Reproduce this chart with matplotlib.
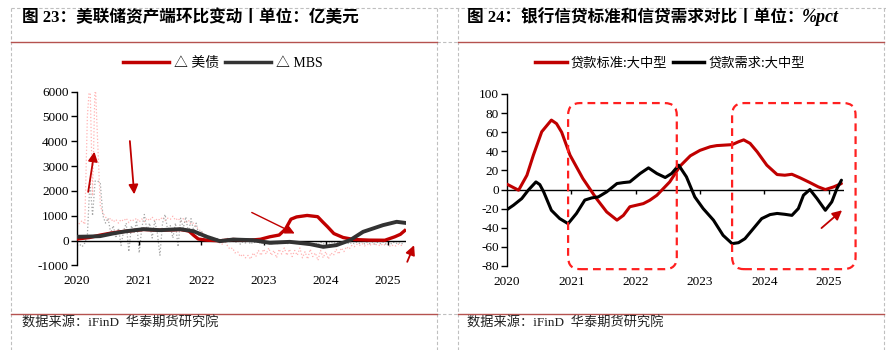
import numpy as np
import matplotlib
matplotlib.use('Agg')
import matplotlib.pyplot as plt
from matplotlib.patches import FancyBboxPatch
from matplotlib.lines import Line2D

CJK = ['Noto Sans CJK SC', 'DejaVu Sans']
SERIF_CJK = ['Liberation Serif', 'Noto Sans CJK SC', 'DejaVu Sans']
plt.rcParams['font.family'] = SERIF_CJK
plt.rcParams['axes.unicode_minus'] = False

RED = '#C00000'
DARK = '#333333'

# ---- left chart: Fed asset changes (100m USD) ----
ust_ma_year = [2020.0, 2020.2, 2020.37, 2020.55, 2020.69, 2020.9, 2021.07, 2021.33, 2021.55, 2021.66,
               2021.8, 2021.88, 2021.95, 2022.09, 2022.3, 2022.51, 2022.78, 2022.95, 2023.1, 2023.25,
               2023.35, 2023.44, 2023.53, 2023.7, 2023.87, 2023.95, 2024.03, 2024.13, 2024.28, 2024.45,
               2024.7, 2024.95, 2025.11, 2025.2, 2025.27]
ust_ma = [60, 120, 216, 300, 350, 400, 444, 417, 430, 444,
          380, 200, 60, 13, -13, 40, 13, 50, 150, 220,
          450, 860, 950, 1010, 960, 750, 550, 280, 120, 40,
          15, 10, 150, 250, 400]

mbs_ma_year = [2020.0, 2020.2, 2020.37, 2020.58, 2020.8, 2021.07, 2021.33, 2021.66, 2021.87, 2022.09,
               2022.3, 2022.51, 2022.83, 2023.1, 2023.42, 2023.75, 2023.96, 2024.17, 2024.39, 2024.6,
               2024.92, 2025.14, 2025.27]
mbs_ma = [150, 160, 175, 283, 377, 458, 417, 458, 377, 148,
          -27, 40, 13, -94, -54, -148, -256, -188, 13, 350,
          619, 754, 713]

# raw half-monthly changes, 2020.0 .. 2025.25
ust_raw = [550, 700, 800, 650, 5000, 6500, 1800, 6500, 3900, 1400, 1100, 950,
           800, 900, 750, 850, 700, 850, 780, 900, 720, 850, 800, 900,
           750, 870, 760, 900, 800, 950, 780, 880, 820, 950, 800, 900,
           850, 980, 820, 900, 760, 880, 700, 820, 650, 700, 550, 450,
           350, 250, 150, 100, 0, -50, 50, -100, -150, 0, -200, -350,
           -300, -500, -450, -650, -550, -700, -600, -750, -500, -650, -400, -600,
           -350, -550, -300, -600, -400, -700, -350, -550, -300, -600, -350, -650,
           -400, -600, -300, -700, -450, -750, -350, -650, -500, -800, -400, -700,
           -450, -750, -500, -600, -350, -550, -300, -450, -250, -350, -200, -250,
           -150, -200, -120, -220, -150, -200, -120, -180, -150, -220, -130, -200,
           -150, -250, -180, -220, -150, -200, -180]
mbs_raw = [-200, -150, -250, -100, 200, 2400, 1000, 2400, 2400, 2300, 1000, 700,
           900, 300, 600, 100, 500, -200, 400, 700, -450, 600, 300, 800,
           -500, 500, 1050, 400, 700, 100, 800, 300, -600, 700, 1050, 400,
           600, 100, 700, -250, 900, 500, 950, 300, 880, 400, 700, 200,
           400, 100, 250, 0, 150, -50, 100, -100, 50, 0, 100, -50,
           50, -100, 0, -150, -50, -100, 0, -150, -50, -100, -30, -150,
           -50, -120, -30, -150, -80, -150, -50, -120, -60, -150, -80, -130,
           -60, -150, -80, -140, -50, -150, -80, -200, -100, -180, -60, -150,
           -80, -130, -40, -120, -60, -100, -30, -120, -50, -150, -80, -130,
           -60, -120, -40, -140, -60, -130, -50, -150, -70, -130, -60, -140,
           -80, -150, -60, -130, -70, -150, -100]
raw_year = 2020 + np.arange(len(ust_raw)) / 24

# ---- right chart: loan standards vs demand (%) ----
std_year = [2020.0, 2020.18, 2020.31, 2020.41, 2020.54, 2020.69, 2020.77, 2020.85, 2020.98, 2021.18,
            2021.39, 2021.55, 2021.71, 2021.81, 2021.91, 2022.12, 2022.22, 2022.33, 2022.43, 2022.53,
            2022.69, 2022.85, 2023.0, 2023.16, 2023.26, 2023.5, 2023.6, 2023.68, 2023.78, 2023.89,
            2024.04, 2024.2, 2024.32, 2024.43, 2024.56, 2024.71, 2024.84, 2024.95, 2025.08, 2025.2]
std = [5.6, -0.7, 15, 36, 60.5, 72.7, 69, 60, 36, 11.5,
       -9.4, -23.4, -32, -27, -18, -14.7, -11.2, -6, 1, 8,
       24.5, 35.3, 41, 44.8, 46, 47, 50, 52, 48.3, 39.5,
       25.5, 15.7, 15, 16, 12.2, 7.3, 2.8, 0, 2.8, 6.3]
dem_year = [2020.0, 2020.1, 2020.23, 2020.33, 2020.45, 2020.51, 2020.57, 2020.69, 2020.82, 2020.95,
            2021.08, 2021.21, 2021.32, 2021.42, 2021.55, 2021.71, 2021.81, 2021.91, 2022.07, 2022.2,
            2022.33, 2022.46, 2022.56, 2022.67, 2022.79, 2022.92, 2023.05, 2023.21, 2023.36, 2023.5,
            2023.6, 2023.7, 2023.83, 2023.96, 2024.09, 2024.2, 2024.32, 2024.43, 2024.53, 2024.61,
            2024.71, 2024.82, 2024.95, 2025.05, 2025.13, 2025.2]
dem = [-21, -16.4, -9.4, -0.7, 8, 5.2, -2.4, -21.7, -30.4, -35.7,
       -25, -11, -8.7, -7.7, -2.4, 6.3, 7.3, 8, 16.8, 22.7,
       16.8, 12.6, 16.8, 25.5, 13.3, -7.7, -19.9, -32, -47.9, -56.6,
       -55.6, -51.4, -40.9, -30.4, -26.2, -25, -25.9, -27, -19.9, -5.9,
       0, -9.4, -21.7, -12.9, 1, 9.8]

years = [2020, 2021, 2022, 2023, 2024, 2025]

W, H = 887, 350
fig = plt.figure(figsize=(W / 100, H / 100), dpi=100)


def fx(x):
    return x / W


def fy(y):
    return 1 - y / H


def fline(x0, y0, x1, y1, **kw):
    fig.add_artist(Line2D([fx(x0), fx(x1)], [fy(y0), fy(y1)], transform=fig.transFigure, **kw))


# table borders
grey = dict(color='#BFBFBF', lw=0.8, ls=(0, (3, 2)))
fline(11.5, 8, 887, 8, **grey)
for xv in [11.5, 437.5, 458, 884]:
    fline(xv, 8, xv, 350, **grey)
fline(437.5, 41.5, 458, 41.5, **grey)
fline(437.5, 313.5, 458, 313.5, **grey)
for x0, x1 in [(11.5, 437.5), (458, 884)]:
    fline(x0, 41.5, x1, 41.5, color='#B5524F', lw=1)
    fline(x0, 313.5, x1, 313.5, color='#B5524F', lw=1)

# titles
fig.text(fx(22), fy(18), '图 23：美联储资产端环比变动丨单位：亿美元', ha='left', va='center',
         fontsize=12, weight='bold', family=SERIF_CJK)
t2 = fig.text(fx(467), fy(18), '图 24：银行信贷标准和信贷需求对比丨单位：', ha='left', va='center',
              fontsize=12, weight='bold', family=SERIF_CJK)
r = fig.canvas.get_renderer()
bb = t2.get_window_extent(r)
fig.text(bb.x1 / W - 0.002, fy(18), '%pct', ha='left', va='center', fontsize=13,
         weight='bold', style='italic', family='Liberation Serif')

# sources
for xs in [22, 467]:
    fig.text(fx(xs), fy(323), '数据来源：iFinD  华泰期货研究院', ha='left', va='center',
             fontsize=9.5, color='#222222', family=SERIF_CJK)


def style_axis(ax, tick_len):
    for s in ['top', 'right', 'bottom']:
        ax.spines[s].set_visible(False)
    ax.spines['left'].set_linewidth(1)
    ax.tick_params(axis='y', direction='out', length=4, width=1, labelsize=9.5, pad=2)
    ax.tick_params(axis='x', length=0, labelsize=9.5, pad=7)
    ax.set_xticks(years)
    ax.set_xticklabels([str(y) for y in years])
    ax.axhline(0, color='black', lw=1, zorder=2)
    ax.vlines(years[1:], 0, -tick_len, color='black', lw=1, zorder=2)


# left chart
ax1 = fig.add_axes([fx(77), fy(265.3), fx(406) - fx(77), fy(91.7) - fy(265.3)])
ax1.plot(raw_year, ust_raw, color='#FFB3B3', lw=0.9, ls=':', zorder=1)
ax1.plot(raw_year, mbs_raw, color='#A6A6A6', lw=0.9, ls=':', zorder=1)
ax1.plot(ust_ma_year, ust_ma, color=RED, lw=2.4, zorder=3, solid_joinstyle='round')
ax1.plot(mbs_ma_year, mbs_ma, color=DARK, lw=2.8, zorder=4, solid_joinstyle='round')
ax1.set_xlim(2020, 2025.29)
ax1.set_ylim(-1000, 6000)
ax1.set_yticks(range(-1000, 6001, 1000))
style_axis(ax1, 200)

arrow = dict(arrowstyle='-|>', color=RED, lw=1.3, mutation_scale=14, shrinkA=0, shrinkB=0)
for tail, tip in [((2020.18, 1960), (2020.28, 3580)),
                  ((2020.85, 4010), (2020.92, 1860)),
                  ((2025.31, -860), (2025.42, -190))]:
    ax1.annotate('', xy=tip, xytext=tail, arrowprops=arrow, annotation_clip=False)
ax1.annotate('', xy=(2023.5, 283), xytext=(2022.81, 1130),
             arrowprops=dict(arrow, lw=1.0), annotation_clip=False)

fig.legend([Line2D([], [], color=RED, lw=2.5), Line2D([], [], color=DARK, lw=2.5)],
           ['△ 美债', '△ MBS'], loc='center', bbox_to_anchor=(fx(223), fy(63)), ncol=2,
           frameon=False, handlelength=3.3, handletextpad=0.4, columnspacing=0.4,
           prop={'family': SERIF_CJK, 'size': 10})

# right chart
ax2 = fig.add_axes([fx(507), fy(266), fx(844) - fx(507), fy(94) - fy(266)])
ax2.plot(std_year, std, color=RED, lw=2.2, zorder=3, solid_joinstyle='round', solid_capstyle='round')
ax2.plot(dem_year, dem, color='black', lw=2.2, zorder=4, solid_joinstyle='round', solid_capstyle='round')
ax2.set_xlim(2020, 2025.24)
ax2.set_ylim(-80, 100)
ax2.set_yticks(range(-80, 101, 20))
style_axis(ax2, 5)

rx = 12 / 64.3
ry = 12 / 0.953
for x0, x1 in [(2020.95, 2022.64), (2023.5, 2025.42)]:
    box = FancyBboxPatch((x0, -83.3), x1 - x0, 90.5 + 83.3,
                         boxstyle='round,pad=0,rounding_size=%f' % rx, mutation_aspect=ry / rx,
                         fill=False, ec='#FF2020', lw=1.6, ls=(0, (3.5, 2.3)),
                         transform=ax2.transData, clip_on=False, zorder=5)
    ax2.add_patch(box)

ax2.annotate('', xy=(2025.21, -21.7), xytext=(2024.89, -40.3), arrowprops=arrow,
             annotation_clip=False)

fig.legend([Line2D([], [], color=RED, lw=2.5), Line2D([], [], color='black', lw=2.5)],
           ['贷款标准:大中型', '贷款需求:大中型'], loc='center', bbox_to_anchor=(fx(670), fy(63)),
           ncol=2, frameon=False, handlelength=2.4, handletextpad=0.3, columnspacing=0.4,
           prop={'family': CJK, 'size': 9.5})

fig.savefig('out.png', dpi=100)
